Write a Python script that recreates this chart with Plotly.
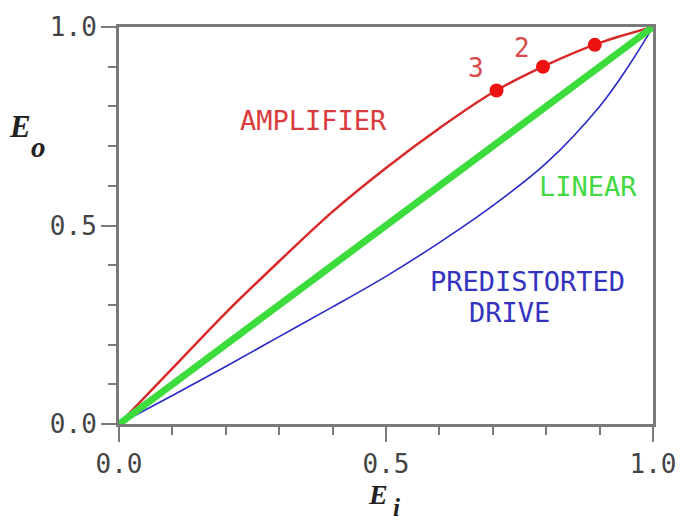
import plotly.graph_objects as go

# ---- data ----
ei_amp = [0.0, 0.1, 0.2, 0.3, 0.4, 0.5, 0.6, 0.7, 0.8, 0.9, 1.0]
eo_amp = [0.0, 0.14, 0.28, 0.41, 0.535, 0.645, 0.745, 0.835, 0.904, 0.96, 1.0]

ei_pre = [0.0, 0.1, 0.2, 0.3, 0.4, 0.5, 0.6, 0.7, 0.8, 0.9, 0.95, 1.0]
eo_pre = [0.0, 0.072, 0.145, 0.22, 0.295, 0.372, 0.457, 0.55, 0.657, 0.8, 0.893, 1.0]

ei_lin = [0.0, 1.0]
eo_lin = [0.0, 1.0]

ei_dots = [0.707, 0.794, 0.891]
eo_dots = [0.84, 0.90, 0.955]

x_ticks = [0.0, 0.5, 1.0]
x_ticklabels = ["0.0", "0.5", "1.0"]
y_ticks = [0.0, 0.5, 1.0]
y_ticklabels = ["0.0", "0.5", "1.0"]

RED = "#d82a2a"
BLUE = "#2a2ac8"
GREEN = "#3cdc3c"
AXIS = "#7a7a7a"
MONO = "DejaVu Sans Mono"

W, H = 688, 522
L, R, T, B = 119, 658, 24, 424


def px_x(px):
    return (px - L) / (R - L)


def px_y(py):
    return (B - py) / (B - T)


fig = go.Figure()
fig.add_trace(go.Scatter(x=ei_amp, y=eo_amp, mode="lines",
                         line=dict(color=RED, width=2.5, shape="spline"),
                         hoverinfo="skip", cliponaxis=False))
fig.add_trace(go.Scatter(x=ei_pre, y=eo_pre, mode="lines",
                         line=dict(color=BLUE, width=1.6, shape="spline"),
                         hoverinfo="skip", cliponaxis=False))
fig.add_trace(go.Scatter(x=ei_lin, y=eo_lin, mode="lines",
                         line=dict(color=GREEN, width=7),
                         hoverinfo="skip", cliponaxis=False))
fig.add_trace(go.Scatter(x=ei_dots, y=eo_dots, mode="markers",
                         marker=dict(color="#ee1111", size=14),
                         hoverinfo="skip", cliponaxis=False))

annos = []


def txt(text, cx, cy, color, size=27, family=MONO, xanchor="center"):
    annos.append(dict(text=text, x=px_x(cx), y=px_y(cy), xref="paper", yref="paper",
                      showarrow=False, xanchor=xanchor, yanchor="middle",
                      borderpad=0,
                      font=dict(family=family, size=size, color=color)))


txt("AMPLIFIER", 315, 118, "#d83c3c")
txt("LINEAR", 592, 185, "#44d844")
txt("PREDISTORTED", 531, 280, "#3333c0")
txt("DRIVE", 513, 312, "#3333c0")
txt("3", 479, 65, "#d84a4a", size=26)
txt("2", 526, 45, "#d84a4a", size=26)

SERIF = "Liberation Serif"
txt("<b><i>E</i></b>", 19, 124, "#222222", size=31, family=SERIF)
txt("<b><i>o</i></b>", 38, 145, "#222222", size=29, family=SERIF)
txt("<b><i>E</i></b>", 380, 495, "#222222", size=28, family=SERIF)
txt("<b><i>i</i></b>", 399, 508, "#222222", size=25, family=SERIF)

axis_common = dict(
    range=[0, 1], showgrid=False, zeroline=False,
    showline=True, linecolor=AXIS, linewidth=3, mirror=True,
    ticks="outside", ticklen=15, tickwidth=2, tickcolor=AXIS,
    tickfont=dict(family=MONO, size=26, color="#444444"),
    minor=dict(dtick=0.1, ticks="outside", ticklen=8, tickwidth=2, tickcolor=AXIS),
)

fig.update_layout(
    width=W, height=H,
    margin=dict(l=L, r=W - R, t=T, b=H - B, pad=0),
    paper_bgcolor="white", plot_bgcolor="white",
    showlegend=False,
    annotations=annos,
    xaxis=dict(**axis_common, tickvals=x_ticks, ticktext=x_ticklabels, ticklabelstandoff=0),
    yaxis=dict(**axis_common, tickvals=y_ticks, ticktext=y_ticklabels, ticklabelstandoff=-1),
)

fig.write_html("out.html")
